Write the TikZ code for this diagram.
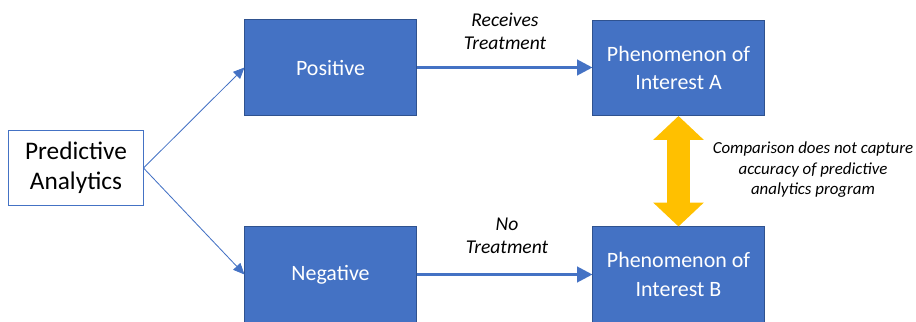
\documentclass[tikz,border=0pt]{standalone}
\usepackage{fontspec}
\setmainfont{Carlito}
\usetikzlibrary{arrows.meta}
\definecolor{boxblue}{HTML}{4472C4}
\definecolor{edgeblue}{HTML}{2F528F}
\definecolor{arrowgold}{HTML}{FFC000}
\tikzset{
  bluebox/.style={draw=edgeblue, line width=0.7pt, fill=boxblue, text=white,
    minimum width=4.275cm, minimum height=2.375cm, align=center, inner sep=0pt,
    font=\fontsize{15.6}{20}\selectfont},
  treatlabel/.style={align=center, font=\itshape\fontsize{13.9}{16.4}\selectfont},
  thinarrow/.style={draw=boxblue, line width=0.6pt, -{Triangle[length=8pt,width=7pt]}},
  boldarrow/.style={draw=boxblue, line width=2.1pt, -{Triangle[length=11pt,width=11pt]}},
  goldarrow/.style={draw=arrowgold, line width=16.4pt,
    {Triangle[length=17pt,width=35pt]}-{Triangle[length=17pt,width=35pt]}}
}
\begin{document}
\begin{tikzpicture}[x=0.025cm,y=-0.025cm]
    \useasboundingbox (0,0) rectangle (916,322);
    %% source box
    \node[draw=boxblue, line width=0.7pt, minimum width=3.35cm, minimum height=1.85cm,
      align=center, font=\fontsize{18}{21}\selectfont] (pa) at (76,168) {Predictive\\Analytics};
    %% blue boxes
    \foreach \nm/\x/\y/\txt in {pos/330.5/67.5/Positive, neg/330.5/274.5/Negative,
        phA/678.5/68/{Phenomenon of\\Interest A}, phB/678.5/274.5/{Phenomenon of\\Interest B}}
        \node[bluebox] (\nm) at (\x,\y) {\txt};
    %% split
    \draw[thinarrow] (pa.east) -- (pos.west);
    \draw[thinarrow] (pa.east) -- (neg.west);
    %% treatment arrows
    \draw[boldarrow] (pos.east) -- (pos.east -| phA.west);
    \draw[boldarrow] (neg.east) -- (neg.east -| phB.west);
    \node[treatlabel] (rt) at (505,31) {Receives\\Treatment};
    \node[treatlabel] (nt) at (507,236) {No\\Treatment};
    %% comparison
    \draw[goldarrow] (phA.south) -- (phB.north);
    \node[align=center, font=\itshape\fontsize{12}{14.6}\selectfont] (cmp) at (813,170)
        {Comparison does not capture\\accuracy of predictive\\analytics program};
\end{tikzpicture}
\end{document}
